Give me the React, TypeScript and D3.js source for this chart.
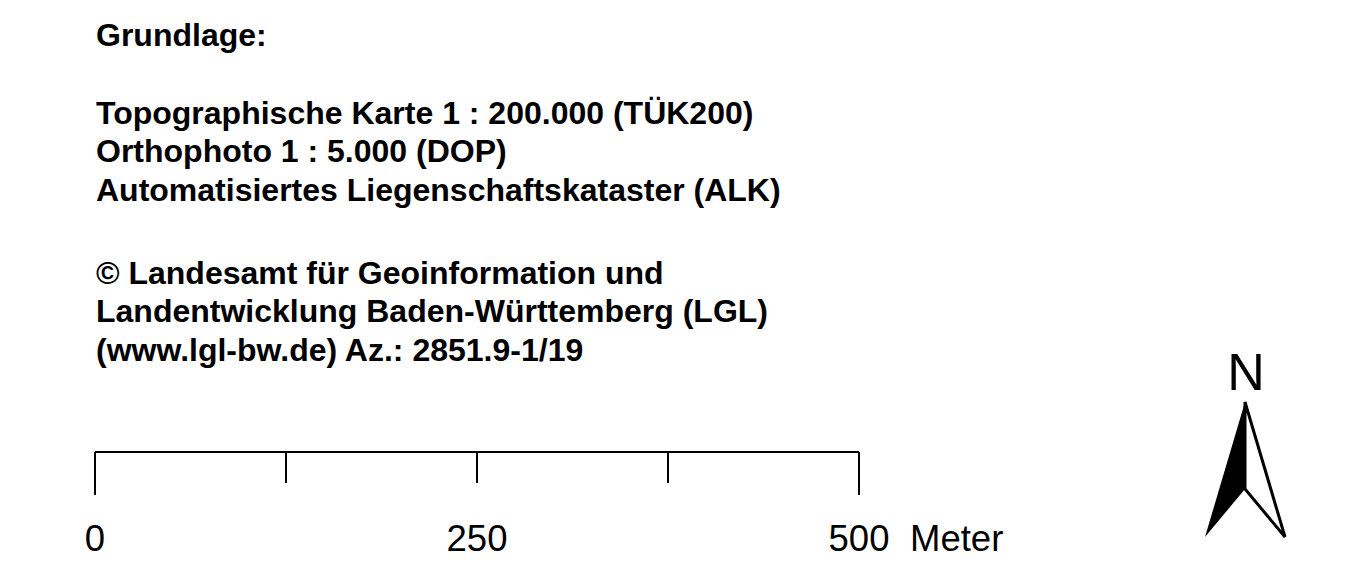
import { useMemo } from 'react';
import * as d3 from 'd3';

const W = 1348;
const H = 586;

const heading = ['Grundlage:'];
const sources = [
  'Topographische Karte 1 : 200.000 (TÜK200)',
  'Orthophoto 1 : 5.000 (DOP)',
  'Automatisiertes Liegenschaftskataster (ALK)',
];
const copyright = [
  '© Landesamt für Geoinformation und',
  'Landentwicklung Baden-Württemberg (LGL)',
  '(www.lgl-bw.de) Az.: 2851.9-1/19',
];

// scale bar, in metres
const scaleTicks = [0, 125, 250, 375, 500];
const scaleLabels = [0, 250, 500];
const scaleUnit = 'Meter';

const FONT = '"Liberation Sans", Arial, Helvetica, sans-serif';

export default function App() {
  const x = useMemo(
    () => d3.scaleLinear().domain([0, 500]).range([95, 859]),
    [],
  );

  const barY = 452;
  const lineH = 38.7;

  // north arrow geometry
  const nx = 1245;
  const tipY = 402;
  const notchY = 489;
  const baseY = 537;
  const halfW = 40;

  const filled = d3.line()([
    [nx, tipY],
    [nx, notchY],
    [nx - halfW, baseY],
  ]) + 'Z';
  const outline = d3.line()([
    [nx, tipY],
    [nx + halfW, baseY],
    [nx, notchY],
  ]) + 'Z';

  return (
    <svg
      width={W}
      height={H}
      viewBox={`0 0 ${W} ${H}`}
      style={{ position: 'absolute', left: 0, top: 0, background: '#fff' }}
      fontFamily={FONT}
    >
      <g fontWeight="bold" fontSize={32} fill="#000">
        {heading.map((t, i) => (
          <text key={t} x={96} y={46 + i * lineH}>
            {t}
          </text>
        ))}
        {sources.map((t, i) => (
          <text key={t} x={96} y={123.5 + i * lineH}>
            {t}
          </text>
        ))}
        {copyright.map((t, i) => (
          <text key={t} x={96} y={283.5 + i * lineH}>
            {t}
          </text>
        ))}
      </g>

      <g stroke="#000" strokeWidth={2} fill="none">
        <line x1={x(0)} x2={x(500)} y1={barY} y2={barY} />
        {scaleTicks.map((d) => {
          const end = d === 0 || d === 500;
          return (
            <line
              key={d}
              x1={x(d)}
              x2={x(d)}
              y1={barY}
              y2={end ? barY + 43 : barY + 31}
            />
          );
        })}
      </g>
      <g fontSize={36.5} fill="#000" textAnchor="middle">
        {scaleLabels.map((d) => (
          <text key={d} x={x(d)} y={551}>
            {d}
          </text>
        ))}
        <text x={910} y={551} textAnchor="start">
          {scaleUnit}
        </text>
      </g>

      <g>
        <text x={nx + 1} y={390} fontSize={52} textAnchor="middle" fill="#000">
          N
        </text>
        <path d={filled} fill="#000" />
        <path
          d={outline}
          fill="#fff"
          stroke="#000"
          strokeWidth={3}
          strokeLinejoin="miter"
        />
      </g>
    </svg>
  );
}
